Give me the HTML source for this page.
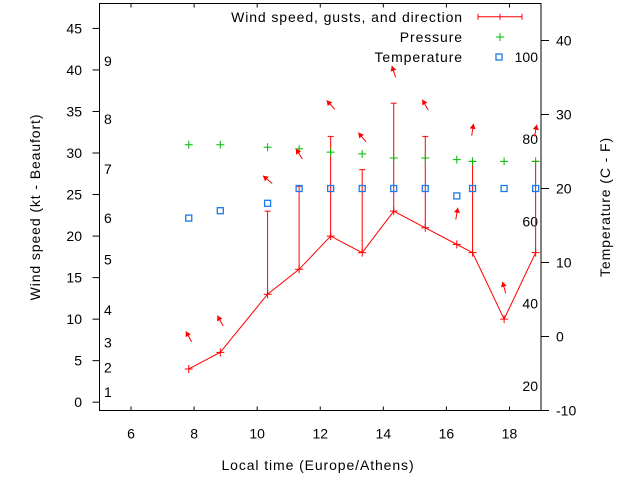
<!DOCTYPE html>
<html><head><meta charset="utf-8"><style>
body{margin:0;background:#fff}
svg{display:block;font-family:"Liberation Sans",sans-serif;font-size:14px}
.w{letter-spacing:0.9px}
</style></head><body>
<svg id="c" width="640" height="480" xmlns="http://www.w3.org/2000/svg"></svg>
<script>
const times=[7.83,8.83,10.33,11.33,12.33,13.33,14.33,15.33,16.33,16.83,17.83,18.83];
const wind=[4,6,13,16,20,18,23,21,19,18,10,18];
const gusts=[null,null,23,26,32,28,36,32,null,29,null,29];
const pressure=[31.0,31.0,30.7,30.5,30.1,29.9,29.4,29.4,29.2,29.0,29.0,29.0];
const temperature=[16,17,18,20,20,20,20,20,19,20,20,20];
const arrowLevel=[7.9,9.8,26.8,29.9,35.8,31.9,39.8,35.8,22.7,32.8,13.8,32.7];
const arrowDir=[331,331,310,328,318,320,342,331,10,8,344,10];
const xTicks=[6,8,10,12,14,16,18];
const yTicks=[0,5,10,15,20,25,30,35,40,45];
const y2Ticks=[-10,0,10,20,30,40];
const beaufortNums=[1,2,3,4,5,6,7,8,9];
const beaufortPos=[1.2,4.2,7.2,11.1,17.2,22.2,28.1,34.1,41.1];
const fahrenheit=[20,40,60,80,100];

const L=99.5,R=541,T=3.5,B=410.5;
const X=v=>L+(v-5)/14*(R-L);
const Y=v=>B-(v+1)/49*(B-T);
const Y2=v=>B-(v+10)/55*(B-T);
const svg=document.getElementById('c');
const NS='http://www.w3.org/2000/svg';
function mk(tag,attrs,name,text){const e=document.createElementNS(NS,tag);for(const k in attrs)e.setAttribute(k,attrs[k]);


if(text!==undefined)e.textContent=text;svg.appendChild(e);return e;}

mk('rect',{x:L,y:T,width:R-L,height:B-T,fill:'none',stroke:'#000','stroke-width':1},'plot-border');
xTicks.forEach(t=>{const x=X(t);
mk('line',{x1:x,y1:B,x2:x,y2:B-4,stroke:'#000'},'x-tick');
mk('line',{x1:x,y1:T,x2:x,y2:T+4,stroke:'#000'},'x-top-tick');
mk('text',{x:x,y:B+28,'text-anchor':'middle',fill:'#000'},'x-tick-label',t);});
yTicks.forEach(t=>{const y=Y(t);
mk('line',{x1:L,y1:y,x2:L-7,y2:y,stroke:'#000'},'y-tick');
mk('text',{x:82,y:y+5,'text-anchor':'end',fill:'#000'},'y-tick-label',t);});
y2Ticks.forEach(t=>{const y=Y2(t);
mk('line',{x1:R,y1:y,x2:R+8,y2:y,stroke:'#000'},'y2-tick');
mk('text',{x:556,y:y+5,fill:'#000'},'y2-tick-label',t);});
beaufortNums.forEach((n,i)=>{mk('text',{x:104,y:Y(beaufortPos[i])+5,fill:'#000'},'beaufort-label',n);});
fahrenheit.forEach(f=>{const c=(f-32)*5/9;mk('text',{x:538,y:Y2(c)+5,'text-anchor':'end',fill:'#000'},'fahrenheit-label',f);});

mk('text',{x:0,y:0,class:'w',transform:'translate(40,207) rotate(-90)','text-anchor':'middle',fill:'#000'},'y-axis-title','Wind speed (kt - Beaufort)');
mk('text',{x:0,y:0,class:'w',transform:'translate(610,207) rotate(-90)','text-anchor':'middle',fill:'#000'},'y2-axis-title','Temperature (C - F)');
mk('text',{x:318,y:470,class:'w','text-anchor':'middle',fill:'#000'},'x-axis-title','Local time (Europe/Athens)');

times.forEach((t,i)=>{if(gusts[i]==null)return;const x=X(t);
mk('line',{x1:x,y1:Y(wind[i]),x2:x,y2:Y(gusts[i]),stroke:'#f00'},'gust-bar');
mk('line',{x1:x-3,y1:Y(gusts[i]),x2:x+3,y2:Y(gusts[i]),stroke:'#f00'},'gust-cap');});
mk('polyline',{points:times.map((t,i)=>X(t)+','+Y(wind[i])).join(' '),fill:'none',stroke:'#f00'},'wind-line');
times.forEach((t,i)=>{const x=X(t),y=Y(wind[i]);
mk('path',{d:`M${x-4},${y}H${x+4}M${x},${y-4}V${y+4}`,stroke:'#f00'},'wind-point');});
times.forEach((t,i)=>{const x=X(t),y=Y(pressure[i]);
mk('path',{d:`M${x-4},${y}H${x+4}M${x},${y-4}V${y+4}`,stroke:'#0b0'},'pressure-point');});
times.forEach((t,i)=>{const x=X(t),y=Y2(temperature[i]);
mk('rect',{x:x-3,y:y-3,width:6,height:6,fill:'none',stroke:'#1a7ae8','stroke-width':1.3},'temperature-point');});
times.forEach((t,i)=>{const cx=X(t),cy=Y(arrowLevel[i]),a=arrowDir[i]*Math.PI/180;
const dx=Math.sin(a),dy=-Math.cos(a);
const hx=cx+dx*6,hy=cy+dy*6,tx=cx-dx*6,ty=cy-dy*6;
mk('line',{x1:tx,y1:ty,x2:hx,y2:hy,stroke:'#f00'},'direction-arrow');
const px=-dy,py=dx;
mk('polygon',{points:`${hx},${hy} ${hx-dx*5+px*3},${hy-dy*5+py*3} ${hx-dx*5-px*3},${hy-dy*5-py*3}`,fill:'#f00'},'direction-arrow-head');});

mk('text',{x:463,y:22,class:'w','text-anchor':'end',fill:'#000'},'legend-wind-label','Wind speed, gusts, and direction');
mk('path',{d:'M478,16.7H522M478,13.7V19.7M522,13.7V19.7M500,13.7V19.7',stroke:'#f00'},'legend-wind-sample');
mk('text',{x:463,y:42,class:'w','text-anchor':'end',fill:'#000'},'legend-pressure-label','Pressure');
mk('path',{d:'M496,37H504M500,33V41',stroke:'#0b0'},'legend-pressure-sample');
mk('text',{x:463,y:62,class:'w','text-anchor':'end',fill:'#000'},'legend-temperature-label','Temperature');
mk('rect',{x:496,y:54,width:6,height:6,fill:'none',stroke:'#1a7ae8','stroke-width':1.3},'legend-temperature-sample');
</script>
</body></html>
